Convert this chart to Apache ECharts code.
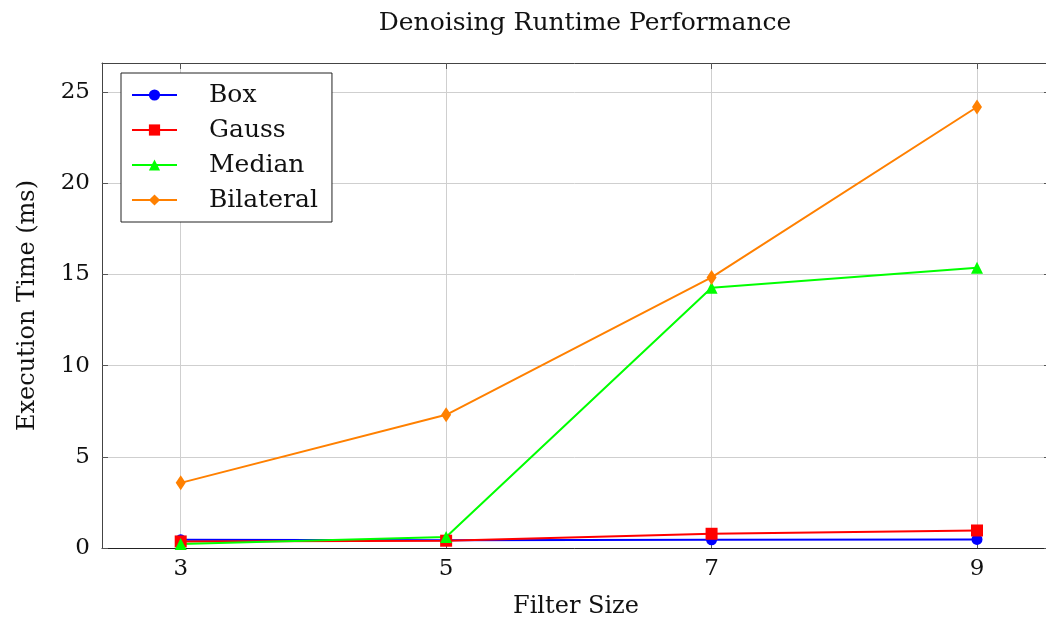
<!DOCTYPE html>
<html>
<head>
<meta charset="utf-8">
<script src="https://cdn.jsdelivr.net/npm/echarts@6/dist/echarts.min.js"></script>
<style>
  html, body { margin: 0; padding: 0; background: #fff; }
  #chart { width: 1046px; height: 626px; }
</style>
</head>
<body>
<div id="chart"></div>
<script>
// data
const filterSizes = [3, 5, 7, 9];
const boxTimes = [0.45, 0.43, 0.45, 0.47];
const gaussTimes = [0.36, 0.4, 0.78, 0.96];
const medianTimes = [0.22, 0.6, 14.26, 15.36];
const bilateralTimes = [3.57, 7.3, 14.83, 24.17];
const xTicks = [3, 5, 7, 9];
const yTicks = [0, 5, 10, 15, 20, 25];

const FONT = 'DejaVu Serif';

function pairs(ys) {
  return filterSizes.map((x, i) => [x, ys[i]]);
}

function lineSeries(name, ys, color, symbol, size) {
  return {
    name: name,
    type: 'line',
    data: pairs(ys),
    symbol: symbol,
    symbolSize: size,
    showSymbol: true,
    color: color,
    lineStyle: { color: color, width: 2 },
    itemStyle: { color: color },
    emphasis: { disabled: true },
    animation: false
  };
}

const chart = echarts.init(document.getElementById('chart'));

const tickStyle = { show: true, inside: true, length: 6, lineStyle: { color: '#555', width: 1 } };
const frameLine = { show: true, onZero: false, lineStyle: { color: '#444', width: 1 } };

chart.setOption({
  backgroundColor: '#fff',
  textStyle: { fontFamily: FONT },
  title: {
    text: 'Denoising Runtime Performance',
    left: 580,
    top: 6,
    textAlign: 'center',
    textStyle: { fontFamily: FONT, fontSize: 25, fontWeight: 'normal', color: '#111' }
  },
  grid: {
    left: 102,
    top: 63,
    width: 948,
    height: 485,
    outerBoundsMode: 'none',
    containLabel: false,
    show: false
  },
  legend: {
    orient: 'vertical',
    left: 121,
    top: 73,
    padding: [8, 14, 8, 10],
    backgroundColor: '#fff',
    borderColor: '#222',
    borderWidth: 1,
    itemWidth: 45,
    itemHeight: 14,
    itemGap: 7,
    textStyle: { fontFamily: FONT, fontSize: 25, color: '#111', lineHeight: 28, padding: [0, 0, 0, 27] },
    data: ['Box', 'Gauss', 'Median', 'Bilateral']
  },
  xAxis: [
    {
      type: 'value',
      min: 2.407,
      max: 9.55,
      name: 'Filter Size',
      nameLocation: 'middle',
      nameGap: 47,
      nameTextStyle: { fontFamily: FONT, fontSize: 24, color: '#111' },
      axisLine: { show: true, onZero: false, lineStyle: { color: '#222', width: 1 } },
      axisTick: Object.assign({ customValues: xTicks }, tickStyle),
      axisLabel: { customValues: xTicks, fontFamily: FONT, fontSize: 23, color: '#111', margin: 10 },
      splitLine: { show: true, lineStyle: { color: '#cfcfcf', width: 1 } }
    },
    {
      type: 'value',
      position: 'top',
      min: 2.407,
      max: 9.55,
      axisLine: frameLine,
      axisTick: Object.assign({ customValues: xTicks }, tickStyle),
      axisLabel: { show: false },
      splitLine: { show: false }
    }
  ],
  yAxis: [
    {
      type: 'value',
      min: 0,
      max: 26.58,
      name: 'Execution Time (ms)',
      nameLocation: 'middle',
      nameGap: 62,
      nameRotate: 90,
      nameTextStyle: { fontFamily: FONT, fontSize: 24, color: '#111' },
      axisLine: frameLine,
      axisTick: Object.assign({ customValues: yTicks }, tickStyle),
      axisLabel: { customValues: yTicks, fontFamily: FONT, fontSize: 23, color: '#111', margin: 12 },
      splitLine: { show: true, lineStyle: { color: '#cfcfcf', width: 1 } }
    },
    {
      type: 'value',
      position: 'right',
      min: 0,
      max: 26.58,
      axisLine: frameLine,
      axisTick: Object.assign({ customValues: yTicks }, tickStyle),
      axisLabel: { show: false },
      splitLine: { show: false }
    }
  ],
  series: [
    lineSeries('Box', boxTimes, '#0000ff', 'circle', 11),
    lineSeries('Gauss', gaussTimes, '#ff0000', 'rect', 12),
    lineSeries('Median', medianTimes, '#00ff00', 'triangle', 12),
    lineSeries('Bilateral', bilateralTimes, '#ff8000', 'diamond', [10, 15])
  ]
});
</script>
</body>
</html>
